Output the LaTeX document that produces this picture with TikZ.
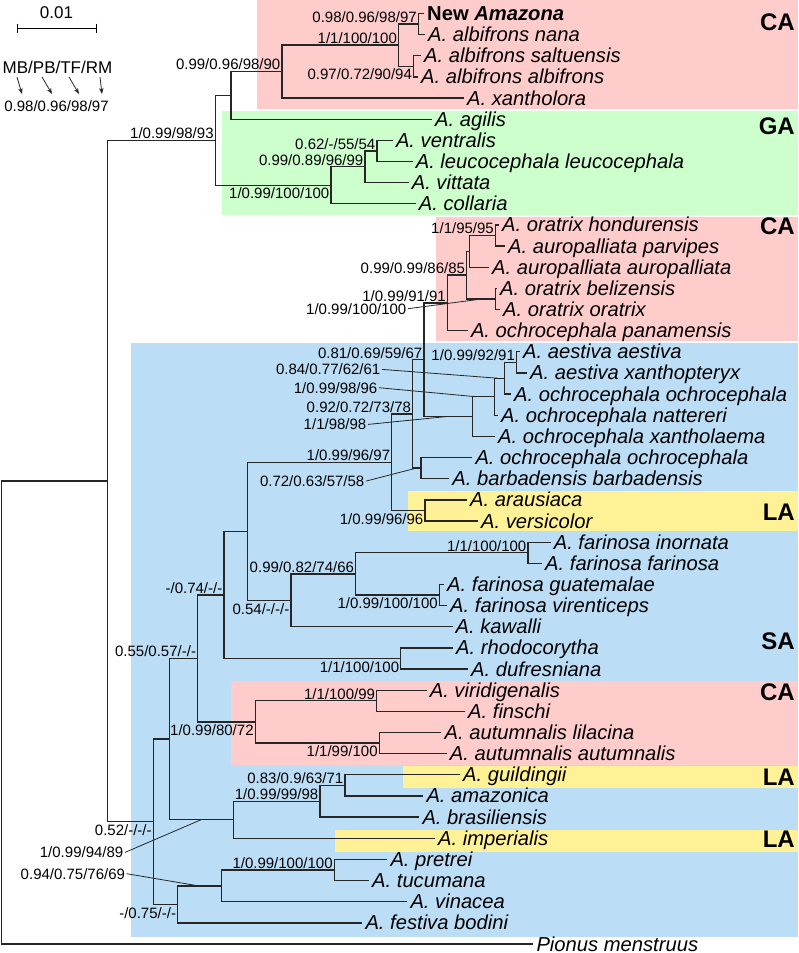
\documentclass[tikz,border=0pt]{standalone}
\usepackage{fontspec}
\setmainfont{Liberation Sans}
\usetikzlibrary{arrows.meta}

\definecolor{capink}{RGB}{255,204,204}
\definecolor{gagreen}{RGB}{204,255,204}
\definecolor{sablue}{RGB}{187,222,246}
\definecolor{layellow}{RGB}{255,242,150}

\newcommand{\taxsize}{\fontsize{20.2}{24}\selectfont}
\newcommand{\supsize}{\fontsize{15}{18}\selectfont}
\newcommand{\legsize}{\fontsize{17}{20}\selectfont}
\newcommand{\regsize}{\fontsize{24}{28}\selectfont}

\begin{document}
\begin{tikzpicture}[x=1pt, y=-1pt, >={Stealth[length=6pt, width=4.5pt]},
    branch/.style={line width=1.3pt, draw=black!85},
    leader/.style={line width=0.8pt, draw=black!85},
    taxon/.style={anchor=west, inner xsep=3pt, inner ysep=0pt, text height=14pt, text depth=0pt, font=\taxsize\itshape},
    supa/.style={anchor=south east, inner xsep=1.5pt, inner ysep=1.5pt, text height=11pt, text depth=0pt, font=\supsize},
    supb/.style={supa, anchor=north east, inner ysep=2.5pt},
    supl/.style={supa, anchor=east, inner ysep=0pt},
    region/.style={anchor=east, inner sep=0pt, font=\regsize\bfseries}]
  \useasboundingbox (0,0) rectangle (798,953);
  % ------------------------------------------------------------------ shaded areas
  \foreach \col/\xa/\ya/\yb in {capink/257/0/109, gagreen/222/111/215, capink/436/217/341,
      sablue/131/343/937, layellow/408/491.4/530.7, capink/231/681/765,
      layellow/403/766/788, layellow/335/830/852} {
    \fill[\col] (\xa,\ya) rectangle (798,\yb);
  }
  \foreach \lab/\y [count=\k] in {CA/22, GA/126.3, CA/226.5, LA/512.2, SA/640.8, CA/691.9, LA/777, LA/839} {
    \node[region] (reg\k) at (795,\y) {\lab};
  }
  % ------------------------------------------------------------------ scale bar and key
  \node[font=\legsize, inner sep=0pt] (scl) at (56.5,13) {0.01};
  \coordinate (sba) at (17,28);
  \coordinate (sbb) at (96,28);
  \draw[line width=1pt] (sba) -- (sbb);
  \draw[line width=1pt] (sba) ++(0,-4.5) -- ++(0,9);
  \draw[line width=1pt] (sbb) ++(0,-4.5) -- ++(0,9);
  \node[font=\legsize, inner sep=0pt] (key) at (57.5,67) {MB/PB/TF/RM};
  \node[font=\supsize, inner sep=0pt] (keyv) at (56.5,106) {0.98/0.96/98/97};
  \foreach \k/\xa/\xb in {1/17/22, 2/42/52, 3/69/79, 4/100/102} {
    \coordinate (as\k) at (\xa,77);
    \coordinate (ae\k) at (\xb,94);
    \draw[leader, ->] (as\k) -- (ae\k);
  }
  % ------------------------------------------------------------------ taxa (row i at y = 13.4 + 21.15 i)
  \foreach \i/\tx/\name in {
      0/424/{\upshape\bfseries New \textit{Amazona}}, 1/425/A. albifrons nana,
      2/421/A. albifrons saltuensis, 3/418/A. albifrons albifrons, 4/464/A. xantholora,
      5/432/A. agilis, 6/392.8/A. ventralis, 7/412.6/A. leucocephala leucocephala,
      8/408.6/A. vittata, 9/415.7/A. collaria, 10/499/A. oratrix hondurensis,
      11/505/A. auropalliata parvipes, 12/489/A. auropalliata auropalliata,
      13/497/A. oratrix belizensis, 14/500/A. oratrix oratrix, 15/467.8/A. ochrocephala panamensis,
      16/520/A. aestiva aestiva, 17/527/A. aestiva xanthopteryx, 18/511/A. ochrocephala ochrocephala,
      19/498/A. ochrocephala nattereri, 20/495/A. ochrocephala xantholaema,
      21/472.3/A. ochrocephala ochrocephala, 22/449.2/A. barbadensis barbadensis,
      23/467/A. arausiaca, 24/478/A. versicolor, 25/550.6/A. farinosa inornata,
      26/542/A. farinosa farinosa, 27/444/A. farinosa guatemalae, 28/447/A. farinosa virenticeps,
      29/452.5/A. kawalli, 30/453/A. rhodocorytha, 31/468/A. dufresniana,
      32/426.6/A. viridigenalis, 33/465/A. finschi, 34/441.4/A. autumnalis lilacina,
      35/446.7/A. autumnalis autumnalis, 36/460/A. guildingii, 37/423.3/A. amazonica,
      38/419.3/A. brasiliensis, 39/435/A. imperialis, 40/387.3/A. pretrei, 41/369/A. tucumana,
      42/407.3/A. vinacea, 43/362.3/A. festiva bodini, 44/533.3/Pionus menstruus} {
    \pgfmathsetmacro{\yy}{13.4+21.15*\i}
    \node[taxon] (t\i) at (\tx,\yy) {\name};
  }
  % ------------------------------------------------------------------ inner nodes
  \foreach \n/\x/\y in {
      n1/418.4/24.58, n2/413.6/66.88, n3/398.6/45.73, n4/282/72.16, nC/231/95.96,
      n5/377/151.48, n6/365/167.34, nE/331/185.85, nB/215.3/140.9,
      n7/495.5/236.08, n8/469.5/251.94, n9/495.5/299.53, n10/466.7/275.73, n11/447.5/303.49,
      n16/516.6/362.98, n17/504.2/378.84, n18/494.6/397.34, n19/472.3/417.17,
      n12/424/360.33, n20/420.9/468.73, n14/412.7/414.53, n21/425/511.03, n15/391.8/462.78,
      n22/528/553.33, n23/439.4/595.63, n24/355.7/574.48, n25/291/600.92, nG/247.7/531.85,
      n26/400.8/659.08, n27/224/595.46, n28/376.7/701.38, n30/379.3/743.68, n29/255.3/722.53,
      n31/197.7/659.0, n35/345/785.98, n34/320/801.84, n33/233.3/820.35, n32/169.3/739.68,
      n36/334.3/870.58, n37/221.7/886.44, n38/177.7/904.95, nF/153.3/822.3,
      nA/107.7/481.6, nR/1.5/713.1} {
    \coordinate (\n) at (\x,\y-0.6);
  }
  % ------------------------------------------------------------------ branches: parent / upper / lower
  \foreach \p/\a/\b in {
      n1/t0.west/t1.west, n2/t2.west/t3.west, n3/n1/n2, n4/n3/t4.west, nC/n4/t5.west,
      n5/t6.west/t7.west, n6/n5/t8.west, nE/n6/t9.west, nB/nC/nE,
      n7/t10.west/t11.west, n8/n7/t12.west, n9/t13.west/t14.west, n10/n8/n9, n11/n10/t15.west,
      n16/t16.west/t17.west, n17/n16/t18.west, n18/n17/t19.west, n19/n18/t20.west,
      n12/n11/n19, n20/t21.west/t22.west, n14/n12/n20, n21/t23.west/t24.west, n15/n14/n21,
      n22/t25.west/t26.west, n23/t27.west/t28.west, n24/n22/n23, n25/n24/t29.west, nG/n15/n25,
      n26/t30.west/t31.west, n27/nG/n26, n28/t32.west/t33.west, n30/t34.west/t35.west,
      n29/n28/n30, n31/n27/n29, n35/t36.west/t37.west, n34/n35/t38.west, n33/n34/t39.west,
      n32/n31/n33, n36/t40.west/t41.west, n37/n36/t42.west, n38/n37/t43.west, nF/n32/n38,
      nA/nB/nF, nR/nA/t44.west} {
    \draw[branch] (\a) -| (\p) |- (\b);
  }
  % ------------------------------------------------------------------ support values
  \foreach \n/\lab in {n1/{0.98/0.96/98/97}, n3/{1/1/100/100}, n4/{0.99/0.96/98/90},
      nB/{1/0.99/98/93}, n5/{0.62/-/55/54}, n6/{0.99/0.89/96/99}, n7/{1/1/95/95},
      n10/{0.99/0.99/86/85}, n11/{1/0.99/91/91}, n16/{1/0.99/92/91}, n12/{0.81/0.69/59/67},
      n14/{0.92/0.72/73/78}, n15/{1/0.99/96/97}, n22/{1/1/100/100}, n24/{0.99/0.82/74/66},
      n27/{-/0.74/-/-}, n28/{1/1/100/99}, n31/{0.55/0.57/-/-}, n35/{0.83/0.9/63/71},
      n34/{1/0.99/99/98}, n36/{1/0.99/100/100}} {
    \node[supa] (s\n) at (\n) {\lab};
  }
  \foreach \n/\lab in {n2/{0.97/0.72/90/94}, nE/{1/0.99/100/100}, n21/{1/0.99/96/96},
      n23/{1/0.99/100/100}, n25/{0.54/-/-/-}, n26/{1/1/100/100}, n30/{1/1/99/100},
      n29/{1/0.99/80/72}, n38/{-/0.75/-/-}, nF/{0.52/-/-/-}} {
    \node[supb] (s\n) at (\n) {\lab};
  }
  % values set aside, with a line to their branch
  \foreach \k/\lx/\ly/\px/\py/\lab in {1/408/309.3/482/299.53/{1/0.99/100/100},
      2/382/370/498/378.84/{0.84/0.77/62/61}, 3/379/388.3/476/397.34/{1/0.99/98/96},
      4/368/425/446.7/417.17/{1/1/98/98}, 5/366/481.7/416.2/468.73/{0.72/0.63/57/58},
      6/125/853/201/820.35/{1/0.99/94/89}, 7/126.7/874.3/198.3/886.44/{0.94/0.75/76/69}} {
    \node[supl] (lv\k) at (\lx,\ly-0.6) {\lab};
    \coordinate (lp\k) at (\px,\py-0.6);
    \draw[leader] (lv\k.east) -- (lp\k);
  }
\end{tikzpicture}
\end{document}
